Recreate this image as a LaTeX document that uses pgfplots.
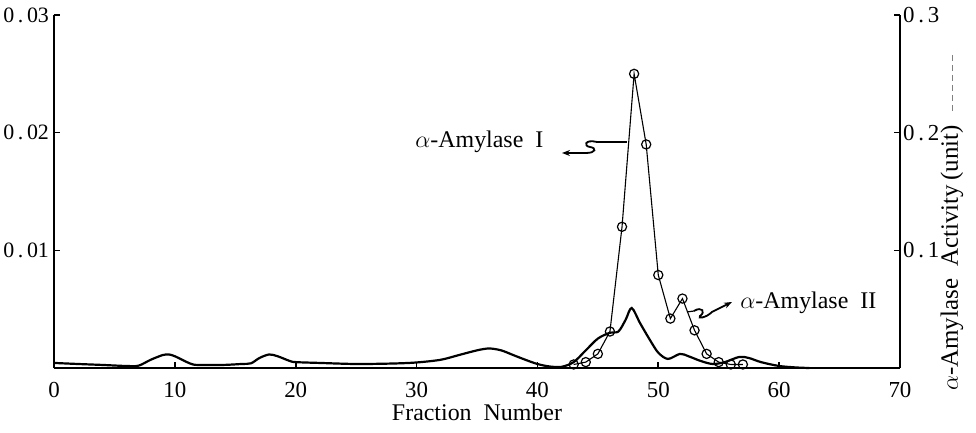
\documentclass[border=0pt]{standalone}
\usepackage{fontspec}
\setmainfont{Liberation Serif}
\usepackage{pgfplots}
\usepackage{pgfplotstable}
\pgfplotsset{compat=1.18}
\usetikzlibrary{arrows.meta}

% protein (left axis)
\pgfplotstableread{
f p
0 0.00043
2 0.00034
4 0.00026
6 0.00017
7 0.0002
8 0.0007
9 0.0011
9.5 0.00115
10 0.001
11 0.0005
11.5 0.0003
12 0.00026
14 0.00026
15.5 0.00034
16.3 0.0004
17 0.00085
17.8 0.00115
18.5 0.001
19.5 0.0006
20 0.0005
22 0.00043
25 0.00034
28 0.00038
30 0.00047
32 0.0007
33.5 0.0011
35 0.0015
36 0.00166
37 0.0015
38 0.0011
39 0.0007
40 0.00034
41 0.00013
42 0.0001
43 0.0005
44 0.0015
45 0.0025
46 0.003
46.7 0.0031
47.3 0.0041
47.8 0.0051
48.5 0.0038
49.3 0.0024
50 0.0013
50.8 0.00077
51.8 0.0012
52.5 0.001
53.5 0.0006
54.5 0.00034
55.5 0.0005
56.7 0.00094
57.5 0.00085
58.5 0.0005
60 0.00017
61.5 0.00004
62.5 0
}\protein

% alpha-amylase activity (right axis)
\pgfplotstableread{
f a
43 0.003
44 0.005
45 0.012
46 0.031
47 0.120
48 0.250
49 0.190
50 0.079
51 0.042
52 0.059
53 0.032
54 0.012
55 0.005
56 0.003
57 0.003
}\activity

\begin{document}
\begin{tikzpicture}
\path[use as bounding box] (-27bp,-32.5bp) rectangle (461bp,184bp);
\pgfplotsset{
  base/.style={
    scale only axis, width=423bp, height=176.5bp,
    xmin=0, xmax=70, ymin=0,
    tick align=inside, major tick length=3bp,
    axis line style={-, line width=0.8bp},
    every outer x axis line/.append style={-},
    every outer y axis line/.append style={-},
    tick style={black, line width=0.8bp},
    tick label style={font=\fontsize{11.5}{13}\selectfont},
    scaled y ticks=false, clip=false,
  }
}
\begin{axis}[base,
  ymax=0.03,
  axis x line*=bottom, axis y line*=left,
  xtick pos=left, ytick pos=left,
  xtick={0,10,...,70}, xticklabels={0,10,20,30,40,50,60,70},
  xticklabel style={yshift=-3.5bp},
  ytick={0.01,0.02,0.03},
  yticklabels={0\,.\,01,0\,.\,02,0\,.\,03},
  yticklabel style={font=\fontsize{11}{13}\selectfont, xshift=1bp},
  xlabel={Fraction\ \ Number},
  xlabel style={at={(axis description cs:0.5,0)}, anchor=center,
    yshift=-22bp, font=\fontsize{12}{14}\selectfont},
]
\addplot[black, line width=1.1bp, smooth, tension=0.5] table[x=f,y=p]{\protein};
\end{axis}
\begin{axis}[base,
  ymax=0.3,
  axis y line*=right, hide x axis,
  ytick pos=right,
  ytick={0.1,0.2,0.3},
  yticklabels={0\,.\,1,0\,.\,2,0\,.\,3},
  yticklabel style={anchor=west, xshift=-2bp},
]
\addplot[black, line width=0.55bp, mark=o, mark size=2.3bp,
  mark options={fill=white, line width=0.6bp}] table[x=f,y=a]{\activity};
\end{axis}

% annotations, in reference pixel units
\begin{scope}[x=0.5bp, y=-0.5bp, shift={(-27bp,184bp)}]
  \node[anchor=west, font=\fontsize{12}{14}\selectfont, inner sep=0pt]
    at (415,142) {$\alpha$-Amylase\ \ I};
  \draw[line width=0.6bp] (627,142) -- (597,142);
  \draw[line width=0.9bp, -{Stealth[length=4bp,width=3bp]}]
    (597,142) .. controls (585,139) and (583,146) .. (590,147)
    .. controls (597,148) and (596,153) .. (586,153) -- (562,153);
  \node[anchor=west, font=\fontsize{12}{14}\selectfont, inner sep=0pt]
    at (740,303) {$\alpha$-Amylase\ \ II};
  \draw[line width=0.6bp] (687,312) -- (694,311);
  \draw[line width=0.9bp, -{Stealth[length=4bp,width=3bp]}]
    (694,311) .. controls (702,306) and (706,312) .. (700,316)
    .. controls (697,319) and (706,318) .. (712,312) -- (732,302);
  \node[rotate=90, font=\fontsize{12.5}{14}\selectfont, inner sep=0pt]
    at (952,258) {$\alpha$-Amylase\ \ Activity\,(unit)};
  \draw[black!50, line width=0.4bp, dash pattern=on 3bp off 2bp] (952,55) -- (952,115);
\end{scope}
\end{tikzpicture}
\end{document}
